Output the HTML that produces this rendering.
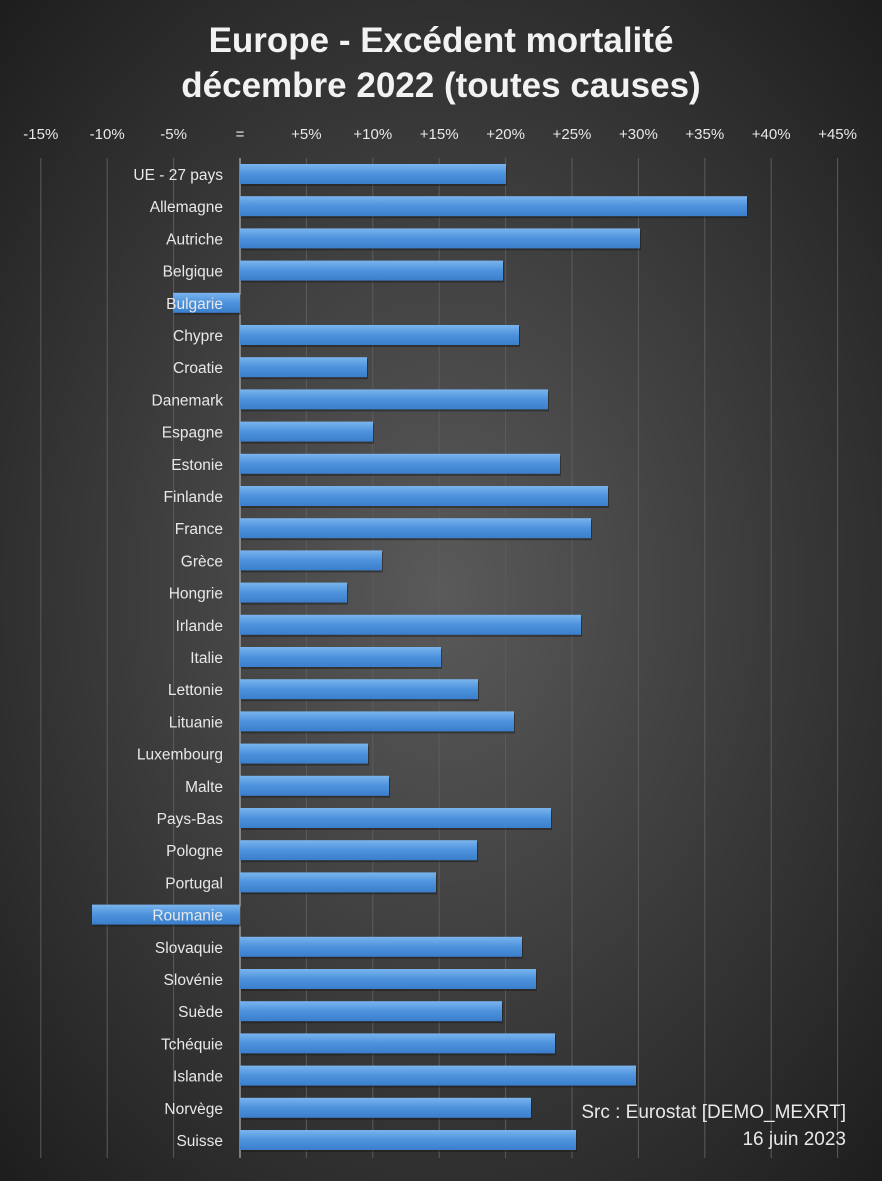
<!DOCTYPE html><html><head><meta charset="utf-8"><style>
body{margin:0;width:882px;height:1181px;overflow:hidden;background:#333}
svg{display:block}
text{font-family:"Liberation Sans",sans-serif;fill:#e8e8e8}
</style></head><body>
<svg width="882" height="1181" xmlns="http://www.w3.org/2000/svg">
<defs>
<radialGradient id="bg" cx="50%" cy="50%" r="70%">
<stop offset="0" stop-color="#5a5a5a"/><stop offset="1" stop-color="#1e1e1e"/></radialGradient>
<linearGradient id="bar" x1="0" y1="0" x2="0" y2="1">
<stop offset="0" stop-color="#7ab4ee"/><stop offset="0.5" stop-color="#4d92dc"/><stop offset="1" stop-color="#3b7fcc"/></linearGradient>
</defs>
<rect width="882" height="1181" fill="url(#bg)"/>
<g id="grid" stroke="#5c5c5c" stroke-width="1"></g>
<line x1="240" y1="158" x2="240" y2="1158" stroke="#9a9a9a" stroke-width="1.5"/>
<text x="441" y="52" text-anchor="middle" font-size="35" font-weight="bold" style="fill:#f2f2f2">Europe - Excédent mortalité</text>
<text x="441" y="97" text-anchor="middle" font-size="35" font-weight="bold" style="fill:#f2f2f2">décembre 2022 (toutes causes)</text>
<g id="ticks" font-size="15" text-anchor="middle"></g>
<g id="bars"></g>
<text x="846" y="1118" text-anchor="end" font-size="19">Src : Eurostat [DEMO_MEXRT]</text>
<text x="846" y="1145" text-anchor="end" font-size="19">16 juin 2023</text>
</svg>
<script>
var ns="http://www.w3.org/2000/svg";
function el(t,a,p,txt){var e=document.createElementNS(ns,t);for(var k in a)e.setAttribute(k,a[k]);if(txt)e.textContent=txt;document.getElementById(p).appendChild(e);return e;}
var z=240,u=13.28;
var labs=["-15%","-10%","-5%","=","+5%","+10%","+15%","+20%","+25%","+30%","+35%","+40%","+45%"];
for(var i=0;i<13;i++){var x=z+(i-3)*5*u;el("text",{x:x,y:139},"ticks",labs[i]);if(i!=3)el("line",{x1:x,y1:158,x2:x,y2:1158},"grid");}
var d=[["UE - 27 pays",506],["Allemagne",747],["Autriche",640],["Belgique",503],["Bulgarie",173],["Chypre",519],["Croatie",367],["Danemark",548],["Espagne",373],["Estonie",560],["Finlande",608],["France",591],["Grèce",382],["Hongrie",347],["Irlande",581],["Italie",441],["Lettonie",478],["Lituanie",514],["Luxembourg",368],["Malte",389],["Pays-Bas",551],["Pologne",477],["Portugal",436],["Roumanie",92],["Slovaquie",522],["Slovénie",536],["Suède",502],["Tchéquie",555],["Islande",636],["Norvège",531],["Suisse",576]];
for(var i=0;i<d.length;i++){var y=174+i*32.2,e=d[i][1];var x0=Math.min(z,e),w=Math.abs(e-z);
el("rect",{x:x0+1,y:y-10+2,width:w,height:20,fill:"#1a1a1a",opacity:0.5},"bars");
el("rect",{x:x0,y:y-10,width:w,height:20,fill:"url(#bar)"},"bars");
el("text",{x:223,y:y+6,"text-anchor":"end","font-size":15.5},"bars",d[i][0]);}
</script>
</body></html>
